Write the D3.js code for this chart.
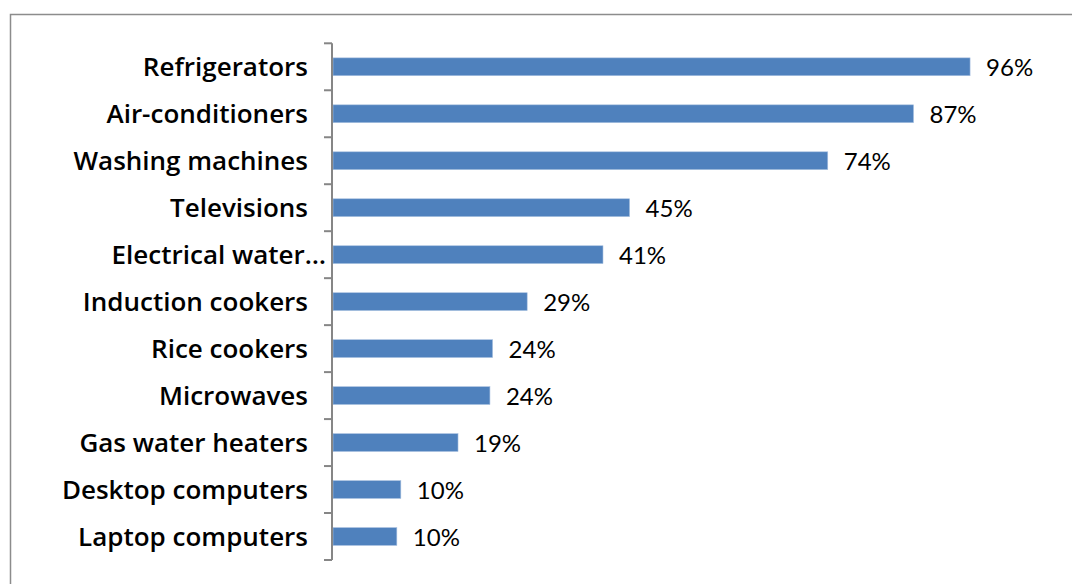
<!DOCTYPE html>
<html>
<head>
<meta charset="utf-8">
<script src="https://cdn.jsdelivr.net/npm/d3@7"></script>
<style>
  html, body { margin: 0; padding: 0; background: #ffffff; }
  svg { display: block; }
</style>
</head>
<body>
<script>
// Share of households owning each appliance (percent)
const categories = [
  "Refrigerators",
  "Air-conditioners",
  "Washing machines",
  "Televisions",
  "Electrical water…",
  "Induction cookers",
  "Rice cookers",
  "Microwaves",
  "Gas water heaters",
  "Desktop computers",
  "Laptop computers"
];
const values = [95.8, 87.3, 74.4, 44.6, 40.6, 29.2, 24.0, 23.6, 18.8, 10.2, 9.6];

const W = 1072, H = 584;
const svg = d3.select("body").append("svg")
  .attr("width", W).attr("height", H);

// chart frame
svg.append("rect")
  .attr("x", 10.5).attr("y", 14.5)
  .attr("width", 1100).attr("height", 620)
  .attr("fill", "#ffffff")
  .attr("stroke", "#8c8c8c")
  .attr("stroke-width", 1.5);

const plotTop = 43.3, plotBottom = 560;
const axisX = 332;

// rows: one band per category, ticks sit on band edges
const rows = d3.scaleBand().domain(categories).range([plotTop, plotBottom]).padding(0);
const y = d3.scaleBand().domain(categories).range([plotTop, plotBottom])
  .paddingInner(0.62).paddingOuter(0.31);
const x = d3.scaleLinear().domain([0, 100]).range([axisX + 1, axisX + 1 + 665]);

const fmt = v => d3.format(".0f")(v) + "%";

// bars
svg.append("g").selectAll("rect")
  .data(values)
  .join("rect")
  .attr("x", x(0))
  .attr("y", (d, i) => y(categories[i]))
  .attr("width", d => x(d) - x(0))
  .attr("height", y.bandwidth())
  .attr("fill", "#4f81bd")
  .attr("stroke", "#a9c1e0")
  .attr("stroke-width", 0.6);

// value labels
svg.append("g").selectAll("text")
  .data(values)
  .join("text")
  .attr("x", d => x(d) + 16)
  .attr("y", (d, i) => y(categories[i]) + y.bandwidth() / 2 + 9.5)
  .attr("font-family", "Lato, 'Open Sans', sans-serif")
  .attr("font-size", 24)
  .attr("fill", "#000000")
  .text(d => fmt(d));

// category axis: line plus boundary ticks
const axis = svg.append("g").attr("stroke", "#868686").attr("stroke-width", 2);
axis.append("line")
  .attr("x1", axisX).attr("x2", axisX)
  .attr("y1", plotTop).attr("y2", plotBottom);
const edges = categories.map(c => rows(c)).concat([plotBottom]);
axis.selectAll("line.tick")
  .data(edges)
  .join("line")
  .attr("class", "tick")
  .attr("x1", axisX - 8).attr("x2", axisX)
  .attr("y1", d => d).attr("y2", d => d);

// category labels
svg.append("g").selectAll("text")
  .data(categories)
  .join("text")
  .attr("x", d => d.endsWith("…") ? 326 : 308)
  .attr("y", d => rows(d) + rows.bandwidth() / 2 + 9.3)
  .attr("text-anchor", "end")
  .attr("font-family", "'Open Sans', sans-serif")
  .attr("font-weight", 600)
  .attr("font-size", 26)
  .attr("fill", "#000000")
  .text(d => d);
</script>
</body>
</html>
